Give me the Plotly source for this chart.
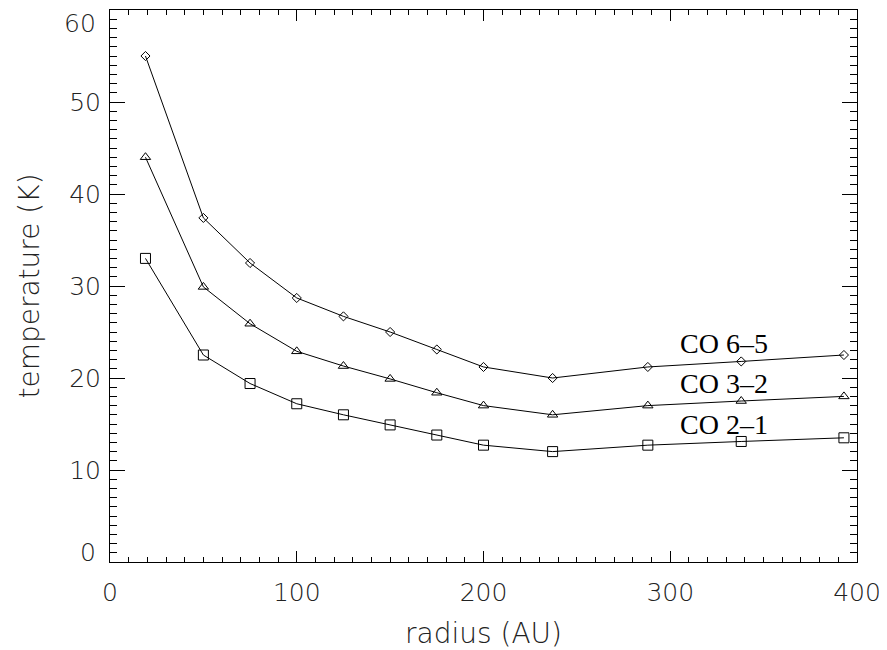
import plotly.graph_objects as go

radius = [19, 50, 75, 100, 125, 150, 175, 200, 237, 288, 338, 393]
t_co65 = [55.0, 37.4, 32.5, 28.7, 26.7, 25.0, 23.1, 21.2, 20.0, 21.2, 21.8, 22.5]
t_co32 = [44.0, 29.9, 25.9, 22.9, 21.3, 19.9, 18.4, 17.0, 16.0, 17.0, 17.5, 18.0]
t_co21 = [33.0, 22.5, 19.4, 17.2, 16.0, 14.9, 13.8, 12.7, 12.0, 12.7, 13.1, 13.5]
labels = ["CO 6\u20135", "CO 3\u20132", "CO 2\u20131"]
x_ticks = [0, 100, 200, 300, 400]
y_ticks = [0, 10, 20, 30, 40, 50, 60]

fig = go.Figure()
line = dict(color="black", width=1)
fig.add_trace(go.Scatter(x=radius, y=t_co65, mode="lines+markers", line=line,
                         marker=dict(symbol="diamond-open", size=7, color="black", line=dict(width=1, color="black"))))
fig.add_trace(go.Scatter(x=radius, y=t_co32, mode="lines+markers", line=line,
                         marker=dict(symbol="triangle-up-open", size=9, color="black", line=dict(width=1, color="black"))))
fig.add_trace(go.Scatter(x=radius, y=t_co21, mode="lines+markers", line=line,
                         marker=dict(symbol="square-open", size=10, color="black", line=dict(width=1, color="black"))))

label_y = [23.8, 19.4, 14.9]
for txt, yy in zip(labels, label_y):
    fig.add_annotation(x=329, y=yy, text=txt, showarrow=False, xanchor="center", yanchor="middle",
                       font=dict(family="Liberation Serif", size=28, color="black"))

tickfont = dict(family="DejaVu Sans", size=25, color="#222222", weight=200)
titlefont = dict(family="DejaVu Sans", size=28, color="#222222", weight=200)

# end labels of the y axis are nudged inwards (as in the reference), so draw them as annotations
y_ticktext = [str(v) if v not in (y_ticks[0], y_ticks[-1]) else "" for v in y_ticks]
for v, dy in ((y_ticks[0], 10), (y_ticks[-1], -13)):
    fig.add_annotation(xref="paper", x=0, y=v, text=str(v), showarrow=False, xanchor="right",
                       yanchor="middle", xshift=-12, yshift=dy, font=tickfont)

fig.update_xaxes(range=[0, 400], tickvals=x_ticks, ticks="inside", ticklen=11,
                 tickwidth=1, tickcolor="black", showline=True, linecolor="black", linewidth=1,
                 mirror="allticks", showgrid=False, zeroline=False, tickfont=tickfont, automargin=False,
                 ticklabelstandoff=8,
                 minor=dict(dtick=10, ticks="inside", ticklen=5, tickcolor="black", tickwidth=1, showgrid=False),
                 title=dict(text="radius (AU)", font=titlefont, standoff=19))
fig.update_yaxes(range=[0, 60], tickvals=y_ticks, ticktext=y_ticktext, ticks="inside", ticklen=15,
                 tickwidth=1, tickcolor="black", showline=True, linecolor="black", linewidth=1,
                 mirror="allticks", showgrid=False, zeroline=False, tickfont=tickfont, automargin=False,
                 ticklabelstandoff=3,
                 minor=dict(dtick=1, ticks="inside", ticklen=7, tickcolor="black", tickwidth=1, showgrid=False),
                 title=dict(text="temperature (K)", font=titlefont, standoff=21))
# the page body has an 8px margin; size the figure so the plot frame lands where the reference has it
fig.update_layout(width=879, height=642, margin=dict(l=102, r=30, t=2, b=88),
                  plot_bgcolor="white", paper_bgcolor="white", showlegend=False)
fig.write_html("out.html")
